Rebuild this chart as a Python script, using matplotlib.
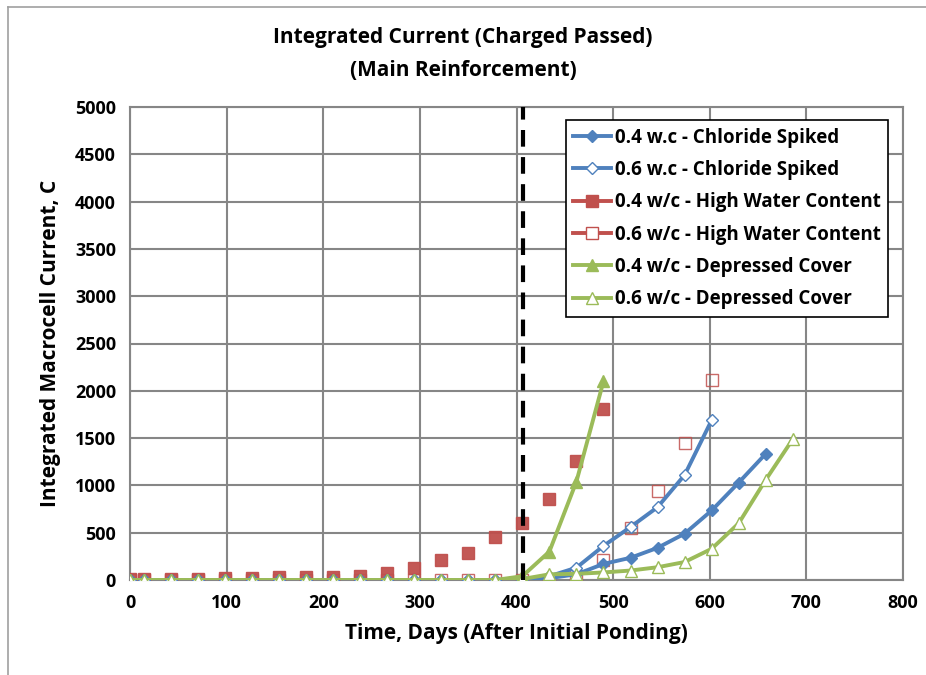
import numpy as np
import matplotlib.pyplot as plt
from matplotlib.lines import Line2D

# days after initial ponding (measurement times)
days = [0, 14, 42, 70, 98, 126, 154, 182, 210, 238, 266, 294, 322, 350, 378,
        406, 434, 462, 490, 518, 546, 574, 602, 630, 658, 686]

# integrated macrocell current, C
cs_04 = [0, 0, 0, 0, 0, 0, 0, 0, 0, 0, 0, 0, 0, 0, 0,
         5, 20, 60, 170, 235, 340, 490, 735, 1030, 1335]
cs_06 = [0, 0, 0, 0, 0, 0, 0, 0, 0, 0, 0, 0, 0, 0, 0,
         10, 40, 130, 360, 560, 770, 1110, 1690]
hwc_04 = [10, 10, 10, 15, 20, 25, 30, 35, 35, 40, 75, 127, 211, 290, 455,
          605, 860, 1260, 1810]
hwc_06 = [5, 5, 5, 5, 5, 5, 5, 5, 5, 5, 5, 5, 5, 5, 5,
          5, -10, 40, 210, 550, 940, 1450, 2115]
dc_04 = [0, 0, 0, 0, 0, 0, 0, 0, 0, 0, 0, 0, 0, 0, 0,
         40, 300, 1040, 2100]
dc_06 = [0, 0, 0, 0, 0, 0, 0, 0, 0, 0, 0, 0, 0, 0, 0,
         10, 60, 65, 80, 100, 135, 190, 330, 600, 1060, 1490]

labels = ["0.4 w.c - Chloride Spiked", "0.6 w.c - Chloride Spiked",
          "0.4 w/c - High Water Content", "0.6 w/c - High Water Content",
          "0.4 w/c - Depressed Cover", "0.6 w/c - Depressed Cover"]

dashed_day = 407

blue, red, green = "#4F81BD", "#C0504D", "#9BBB59"

plt.rcParams['font.family'] = ['Open Sans', 'DejaVu Sans']
plt.rcParams['font.weight'] = 'bold'

fig = plt.figure(figsize=(9.26, 6.75), dpi=100)
ax = fig.add_axes([130 / 926, 1 - 580 / 675, (903 - 130) / 926, (580 - 107) / 675])

# outer chart frame
fig.add_artist(Line2D([8 / 926, 8 / 926], [0, 1 - 7 / 675], color="#A0A0A0", lw=1.2))
fig.add_artist(Line2D([8 / 926, 1], [1 - 7 / 675, 1 - 7 / 675], color="#A0A0A0", lw=1.2))

ax.plot(days[:len(cs_04)], cs_04, color=blue, lw=2.8, marker="D", ms=6, mfc=blue, mec=blue, zorder=4)
ax.plot(days[:len(cs_06)], cs_06, color=blue, lw=2.8, marker="D", ms=6, mfc="white", mec=blue, mew=1, zorder=4)
ax.plot(days[:len(hwc_04)], hwc_04, ls="none", marker="s", ms=8, mfc=red, mec=red, alpha=0.95, zorder=3)
ax.plot(days[:len(hwc_06)], hwc_06, ls="none", marker="s", ms=8, mfc="none", mec=red, mew=1, alpha=0.85, zorder=3)
ax.plot(days[:len(dc_04)], dc_04, color=green, lw=2.8, marker="^", ms=8, mfc=green, mec=green, zorder=5)
ax.plot(days[:len(dc_06)], dc_06, color=green, lw=2.8, marker="^", ms=8, mfc="white", mec=green, mew=1, zorder=5)

ax.axvline(dashed_day, color="black", lw=3, ls=(0, (4, 2.5)), zorder=6)

ax.set_xlim(0, 800)
ax.set_ylim(0, 5000)
ax.set_xticks(np.arange(0, 801, 100))
ax.set_yticks(np.arange(0, 5001, 500))
ax.grid(True, color="#868686", lw=1.5)
ax.set_axisbelow(True)
for s in ax.spines.values():
    s.set_color("#868686")
    s.set_linewidth(1.5)
ax.tick_params(length=0, labelsize=13, pad=10)
for t in ax.get_xticklabels() + ax.get_yticklabels():
    t.set_fontweight('bold')

ax.set_xlabel("Time, Days (After Initial Ponding)", fontsize=15, fontweight='bold', labelpad=8)
ax.set_ylabel("Integrated Macrocell Current, C", fontsize=15, fontweight='bold', labelpad=10)
fig.text(0.5, 1 - 38 / 675, "Integrated Current (Charged Passed)", ha="center", va="center",
         fontsize=15, fontweight='bold')
fig.text(0.5, 1 - 70 / 675, "(Main Reinforcement)", ha="center", va="center",
         fontsize=15, fontweight='bold')

handles = [
    Line2D([], [], color=blue, lw=2.8, marker="D", ms=6, mfc=blue, mec=blue),
    Line2D([], [], color=blue, lw=2.8, marker="D", ms=6, mfc="white", mec=blue),
    Line2D([], [], color=red, lw=2.8, marker="s", ms=8, mfc=red, mec=red),
    Line2D([], [], color=red, lw=2.8, marker="s", ms=8, mfc="white", mec=red),
    Line2D([], [], color=green, lw=2.8, marker="^", ms=8, mfc=green, mec=green),
    Line2D([], [], color=green, lw=2.8, marker="^", ms=8, mfc="white", mec=green),
]
leg = ax.legend(handles, labels, loc="upper right", bbox_to_anchor=(888 / 926, 1 - 120 / 675),
                bbox_transform=fig.transFigure, fontsize=13.5, frameon=True, fancybox=False,
                edgecolor="black", framealpha=1, handlelength=2.0, handletextpad=0.2,
                labelspacing=0.66, borderpad=0.4, borderaxespad=0)
leg.get_frame().set_linewidth(1.2)
for t in leg.get_texts():
    t.set_fontweight('bold')

fig.savefig("out.png", dpi=100)
